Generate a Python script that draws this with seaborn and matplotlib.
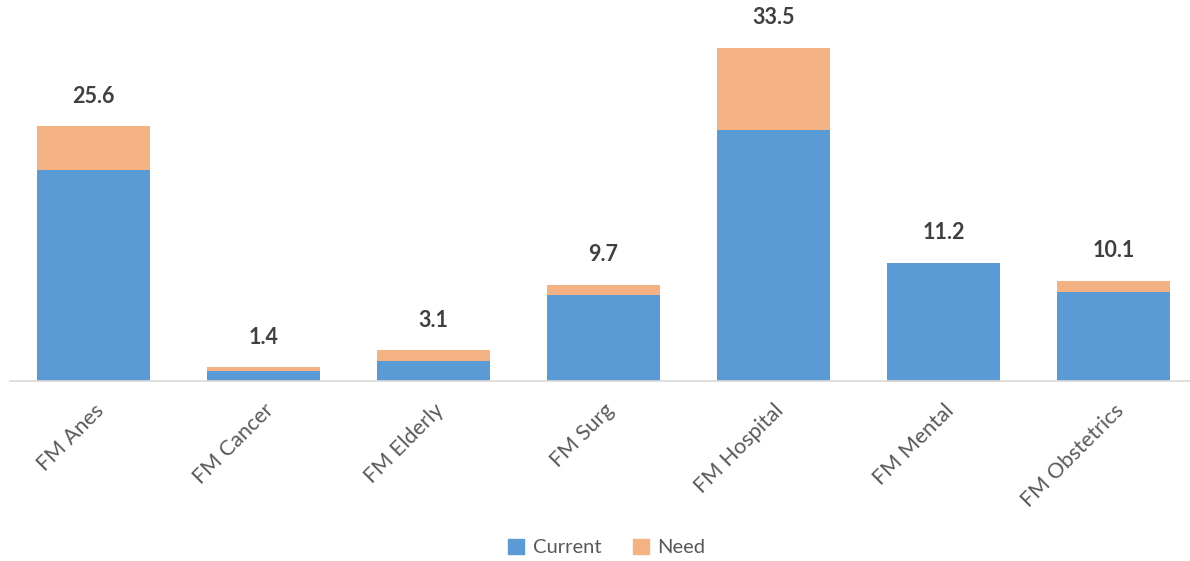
import matplotlib
matplotlib.use("Agg")
import matplotlib.pyplot as plt
import seaborn as sns
import pandas as pd
import numpy as np

categories = ["FM Anes", "FM Cancer", "FM Elderly", "FM Surg",
              "FM Hospital", "FM Mental", "FM Obstetrics"]
current = [21.2, 1.0, 2.0, 8.6, 25.2, 11.9, 8.9]
need = [4.4, 0.4, 1.1, 1.1, 8.3, -0.7, 1.2]

BLUE = "#5B9BD5"
ORANGE = "#F4B183"
TEXT = "#595959"
LABEL = "#404040"

sns.set_theme(style="white")
plt.rcParams["font.family"] = ["Lato", "DejaVu Sans"]

df = pd.DataFrame({"category": categories, "current": current, "need": need})
df["total"] = df["current"] + df["need"]

fig = plt.figure(figsize=(11.90, 5.61), dpi=100)
ax = fig.add_axes([8.5 / 1190, 0.3187, 1190 / 1190, 0.6813])

sns.barplot(data=df, x="category", y="current", color=BLUE, width=0.665,
            saturation=1, ax=ax, edgecolor="none", zorder=2)

# stack the need on top of current (negative need hangs below zero)
xpos = np.arange(len(categories))
bottoms = [c if n >= 0 else 0 for c, n in zip(df["current"], df["need"])]
ax.bar(xpos, df["need"], bottom=bottoms, width=0.665, color=ORANGE,
       edgecolor="none", zorder=2)

ax.axhline(0, color="#D9D9D9", lw=1.2, zorder=3)

for i, row in df.iterrows():
    top = max(row["current"], row["total"])
    ax.annotate(f"{row['total']:.1f}", (i, top), xytext=(0, 14),
                textcoords="offset points", ha="center", va="bottom",
                fontsize=15.5, fontweight="bold", color=LABEL)

ax.set_xlim(-0.5, 6.5)
ax.set_ylim(-0.12, 38.3)
ax.set_xlabel("")
ax.set_ylabel("")
ax.set_yticks([])
ax.tick_params(axis="x", length=0, pad=13)
ax.set_xticks(xpos)
ax.set_xticklabels(categories, rotation=45, ha="right",
                   rotation_mode="anchor", fontsize=15.5, color=TEXT)
for s in ax.spines.values():
    s.set_visible(False)

handles = [plt.Rectangle((0, 0), 1, 1, color=BLUE),
           plt.Rectangle((0, 0), 1, 1, color=ORANGE)]
fig.legend(handles, ["Current", "Need"], loc="center",
           bbox_to_anchor=(0.51, 0.024), ncol=2, frameon=False,
           fontsize=14.5, labelcolor=TEXT, handlelength=0.8, handleheight=0.8,
           handletextpad=0.4, columnspacing=1.6)

fig.savefig("out.png", dpi=100)
